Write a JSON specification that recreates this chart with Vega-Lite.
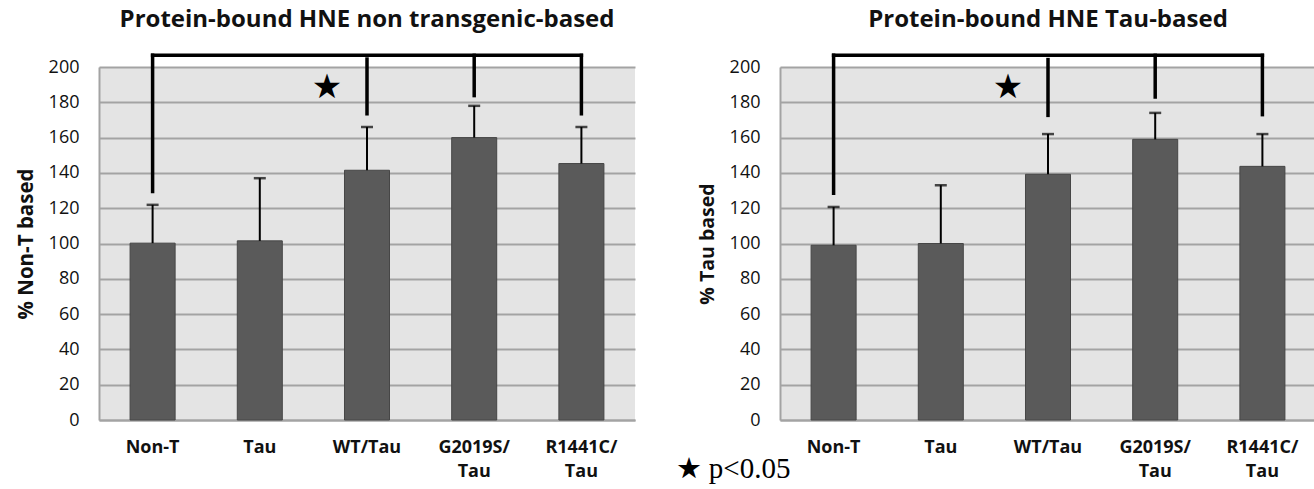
{
  "$schema": "https://vega.github.io/schema/vega-lite/v6.json",
  "background": "white",
  "padding": {"left": 16, "top": 8, "right": 0, "bottom": 0},
  "bounds": "flush",
  "spacing": 145,
  "config": {
    "font": "Open Sans",
    "view": {"fill": "#e4e4e4", "stroke": null},
    "title": {"fontSize": 24, "fontWeight": "bold", "color": "#111111", "anchor": "middle", "offset": 16},
    "axisY": {"values": [0,20,40,60,80,100,120,140,160,180,200], "labelFontSize": 18, "labelPadding": 20, "ticks": false, "tickSize": 0, "gridColor": "#a3a3a3", "gridWidth": 2, "gridOpacity": 1, "domainColor": "#a3a3a3", "domainWidth": 2, "labelColor": "#111111", "titleColor": "#111111", "titleFontWeight": "bold", "titlePadding": 12},
    "axisX": {"labelFontSize": 18, "labelFontWeight": "bold", "labelColor": "#111111", "labelPadding": 18, "labelLineHeight": 24, "labelAngle": 0, "ticks": false, "tickSize": 0, "grid": false, "domainColor": "#a3a3a3", "domainWidth": 2, "title": null, "labelExpr": "split(datum.value, ' ')"}
  },
  "datasets": {
    "barsL": [
      {"g": "Non-T", "v": 100.2, "e": 121.9},
      {"g": "Tau", "v": 101.5, "e": 137},
      {"g": "WT/Tau", "v": 141.5, "e": 166},
      {"g": "G2019S/ Tau", "v": 160, "e": 178},
      {"g": "R1441C/ Tau", "v": 145.3, "e": 166}
    ],
    "barsR": [
      {"g": "Non-T", "v": 99, "e": 120.7},
      {"g": "Tau", "v": 100, "e": 133},
      {"g": "WT/Tau", "v": 139.2, "e": 162},
      {"g": "G2019S/ Tau", "v": 159, "e": 174},
      {"g": "R1441C/ Tau", "v": 143.7, "e": 162}
    ],
    "vertL": [
      {"g": "Non-T", "top": 206.6, "bot": 129.4},
      {"g": "WT/Tau", "top": 204.5, "bot": 173.5},
      {"g": "G2019S/ Tau", "top": 206.6, "bot": 183.8},
      {"g": "R1441C/ Tau", "top": 206.6, "bot": 173.5}
    ],
    "vertR": [
      {"g": "Non-T", "top": 206.6, "bot": 128.5},
      {"g": "WT/Tau", "top": 204.2, "bot": 172.6},
      {"g": "G2019S/ Tau", "top": 206.6, "bot": 183},
      {"g": "R1441C/ Tau", "top": 206.6, "bot": 173}
    ],
    "horiz": [
      {"g": "Non-T", "h": 206.6},
      {"g": "Tau", "h": 206.6},
      {"g": "WT/Tau", "h": 206.6},
      {"g": "G2019S/ Tau", "h": 206.6},
      {"g": "R1441C/ Tau", "h": 206.6}
    ],
    "star": [{"g": "WT/Tau", "sy": 188, "t": "★"}],
    "note": [{"g": "Non-T", "ay": -33, "t": "★ p<0.05"}]
  },
  "hconcat": [
    {
      "width": 536,
      "height": 353,
      "title": "Protein-bound HNE non transgenic-based",
      "encoding": {
        "x": {"field": "g", "type": "nominal", "scale": {"domain": ["Non-T", "Tau", "WT/Tau", "G2019S/ Tau", "R1441C/ Tau"], "paddingInner": 0.58, "paddingOuter": 0.29}}
      },
      "layer": [
        {
          "data": {"name": "barsL"},
          "mark": {"type": "bar", "fill": "#5a5a5a", "stroke": "#464646", "strokeWidth": 1},
          "encoding": {"y": {"field": "v", "type": "quantitative", "scale": {"domain": [0, 200]}, "axis": {"title": "% Non-T based", "titleFontSize": 20.5}}}
        },
        {
          "data": {"name": "barsL"},
          "mark": {"type": "rule", "color": "black", "strokeWidth": 2},
          "encoding": {"y": {"field": "v", "type": "quantitative"}, "y2": {"field": "e"}}
        },
        {
          "data": {"name": "barsL"},
          "mark": {"type": "tick", "color": "black", "size": 12, "thickness": 2.5},
          "encoding": {"y": {"field": "e", "type": "quantitative"}}
        },
        {
          "data": {"name": "vertL"},
          "mark": {"type": "rule", "color": "black", "strokeWidth": 3.5, "strokeCap": "square"},
          "encoding": {"y": {"field": "top", "type": "quantitative"}, "y2": {"field": "bot"}}
        },
        {
          "data": {"name": "horiz"},
          "mark": {"type": "line", "color": "black", "strokeWidth": 3.5, "strokeCap": "square"},
          "encoding": {"y": {"field": "h", "type": "quantitative"}}
        },
        {
          "data": {"name": "star"},
          "mark": {"type": "text", "font": "DejaVu Sans", "fontSize": 34, "baseline": "middle", "align": "center", "dx": -40, "color": "black"},
          "encoding": {"y": {"field": "sy", "type": "quantitative"}, "text": {"field": "t"}}
        }
      ]
    },
    {
      "width": 536,
      "height": 353,
      "title": "Protein-bound HNE Tau-based",
      "encoding": {
        "x": {"field": "g", "type": "nominal", "scale": {"domain": ["Non-T", "Tau", "WT/Tau", "G2019S/ Tau", "R1441C/ Tau"], "paddingInner": 0.58, "paddingOuter": 0.29}}
      },
      "layer": [
        {
          "data": {"name": "barsR"},
          "mark": {"type": "bar", "fill": "#5a5a5a", "stroke": "#464646", "strokeWidth": 1},
          "encoding": {"y": {"field": "v", "type": "quantitative", "scale": {"domain": [0, 200]}, "axis": {"title": "% Tau based", "titleFontSize": 19.5}}}
        },
        {
          "data": {"name": "barsR"},
          "mark": {"type": "rule", "color": "black", "strokeWidth": 2},
          "encoding": {"y": {"field": "v", "type": "quantitative"}, "y2": {"field": "e"}}
        },
        {
          "data": {"name": "barsR"},
          "mark": {"type": "tick", "color": "black", "size": 12, "thickness": 2.5},
          "encoding": {"y": {"field": "e", "type": "quantitative"}}
        },
        {
          "data": {"name": "vertR"},
          "mark": {"type": "rule", "color": "black", "strokeWidth": 3.5, "strokeCap": "square"},
          "encoding": {"y": {"field": "top", "type": "quantitative"}, "y2": {"field": "bot"}}
        },
        {
          "data": {"name": "horiz"},
          "mark": {"type": "line", "color": "black", "strokeWidth": 3.5, "strokeCap": "square"},
          "encoding": {"y": {"field": "h", "type": "quantitative"}}
        },
        {
          "data": {"name": "star"},
          "mark": {"type": "text", "font": "DejaVu Sans", "fontSize": 34, "baseline": "middle", "align": "center", "dx": -40, "color": "black"},
          "encoding": {"y": {"field": "sy", "type": "quantitative"}, "text": {"field": "t"}}
        },
        {
          "data": {"name": "note"},
          "mark": {"type": "text", "font": "Liberation Serif", "fontSize": 29, "baseline": "alphabetic", "align": "left", "dx": -158, "color": "black"},
          "encoding": {"y": {"field": "ay", "type": "quantitative"}, "text": {"field": "t"}}
        }
      ]
    }
  ]
}
